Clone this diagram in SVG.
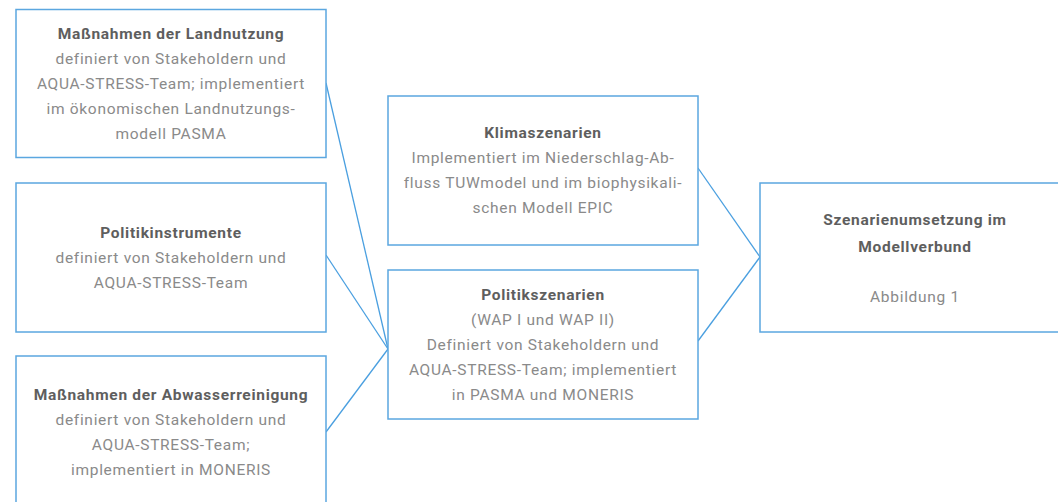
<svg xmlns="http://www.w3.org/2000/svg" width="1058" height="502" viewBox="0 0 1058 502">
<style>
.box{fill:#fff;stroke:#5ba7e0;stroke-width:1.5}
.t{font-family:Roboto,"Liberation Sans",sans-serif;font-size:15.5px;fill:#8a8a8a;text-anchor:middle;letter-spacing:0.7px}
.b{font-weight:bold;fill:#5e5e5e}
.c{stroke:#4a9fe0;stroke-width:1.3;fill:none}
</style>
<rect width="1058" height="502" fill="#fff"/>
<g id="connectors">
<line class="c" x1="326" y1="83" x2="388" y2="349"/>
<line class="c" x1="326" y1="255" x2="388" y2="349"/>
<line class="c" x1="326" y1="432" x2="388" y2="349"/>
<line class="c" x1="698" y1="168" x2="760" y2="257"/>
<line class="c" x1="698" y1="341" x2="760" y2="257"/>
</g>
<g id="n1">
<rect class="box" x="16" y="9.5" width="310" height="148"/>
<text class="t b" x="171" y="39">Maßnahmen der Landnutzung</text>
<text class="t" x="171" y="64">definiert von Stakeholdern und</text>
<text class="t" x="171" y="89">AQUA-STRESS-Team; implementiert</text>
<text class="t" x="171" y="114">im ökonomischen Landnutzungs-</text>
<text class="t" x="171" y="139">modell PASMA</text>
</g>
<g id="n2">
<rect class="box" x="16" y="183" width="310" height="149"/>
<text class="t b" x="171" y="238">Politikinstrumente</text>
<text class="t" x="171" y="263">definiert von Stakeholdern und</text>
<text class="t" x="171" y="288">AQUA-STRESS-Team</text>
</g>
<g id="n3">
<rect class="box" x="16" y="356" width="310" height="160"/>
<text class="t b" x="171" y="400">Maßnahmen der Abwasserreinigung</text>
<text class="t" x="171" y="425">definiert von Stakeholdern und</text>
<text class="t" x="171" y="450">AQUA-STRESS-Team;</text>
<text class="t" x="171" y="475">implementiert in MONERIS</text>
</g>
<g id="n4">
<rect class="box" x="388" y="96" width="310" height="149"/>
<text class="t b" x="543" y="138">Klimaszenarien</text>
<text class="t" x="543" y="163">Implementiert im Niederschlag-Ab-</text>
<text class="t" x="543" y="188">fluss TUWmodel und im biophysikali-</text>
<text class="t" x="543" y="213">schen Modell EPIC</text>
</g>
<g id="n5">
<rect class="box" x="388" y="270" width="310" height="149"/>
<text class="t b" x="543" y="300">Politikszenarien</text>
<text class="t" x="543" y="325">(WAP I und WAP II)</text>
<text class="t" x="543" y="350">Definiert von Stakeholdern und</text>
<text class="t" x="543" y="375">AQUA-STRESS-Team; implementiert</text>
<text class="t" x="543" y="400">in PASMA und MONERIS</text>
</g>
<g id="n6">
<rect class="box" x="760" y="183" width="320" height="149"/>
<text class="t b" x="915" y="225">Szenarienumsetzung im</text>
<text class="t b" x="915" y="252">Modellverbund</text>
<text class="t" x="915" y="302">Abbildung 1</text>
</g>
</svg>
